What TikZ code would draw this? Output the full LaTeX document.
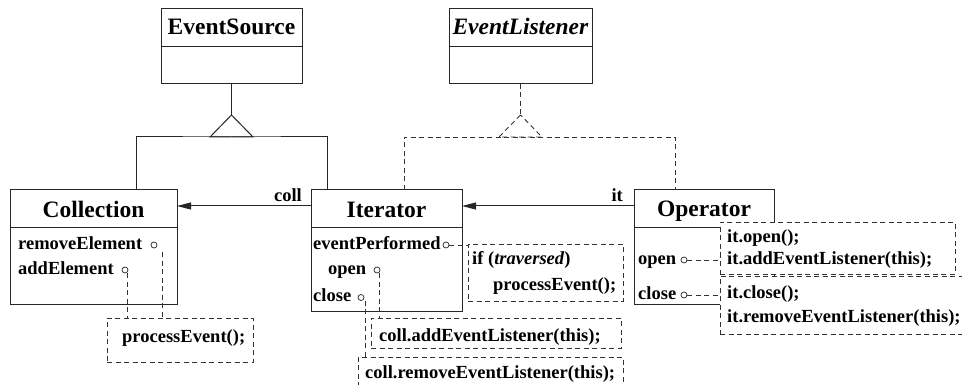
\documentclass[tikz,border=0pt]{standalone}
\usepackage{fontspec}
\setmainfont{Liberation Serif}
\usetikzlibrary{arrows.meta}
\begin{document}
\begin{tikzpicture}[x=1pt,y=-1pt,
  ln/.style={draw=black!85,line width=1pt},
  dsh/.style={draw=black!80,line width=0.9pt,dash pattern=on 5pt off 3.5pt},
  cls/.style={ln,fill=white,inner sep=0pt,outer sep=0pt,anchor=north west},
  note/.style={dsh,fill=white,inner sep=0pt,outer sep=0pt,anchor=north west},
  ttl/.style={font=\fontsize{23.5}{28}\selectfont\bfseries,inner sep=0pt,anchor=base},
  txt/.style={font=\fontsize{18.5}{22}\selectfont\bfseries,inner sep=0pt,anchor=base west},
  port/.style={circle,draw=black!85,line width=0.7pt,inner sep=0pt,minimum size=6pt},
  assoc/.style={ln,-{Triangle[length=14pt,width=7pt]}}]
\useasboundingbox (0,0) rectangle (962,385);
\clip (0,0) rectangle (962,385);

% classes
\node[cls,minimum width=141pt,minimum height=75pt] (es) at (161,9) {};
\node[cls,minimum width=143pt,minimum height=75pt] (el) at (449,9) {};
\node[cls,minimum width=167pt,minimum height=114pt] (coll) at (10,190) {};
\node[cls,minimum width=151pt,minimum height=121pt] (iter) at (311,190) {};
\node[cls,minimum width=140pt,minimum height=114pt] (oper) at (634,190) {};
\foreach \c in {es,el,coll,iter,oper}{
  \draw[ln] ([yshift=-38pt]\c.north west) -- ([yshift=-38pt]\c.north east);
}
\node[ttl] (esT) at (es.north |- 0,35) {EventSource};
\node[ttl] (elT) at (el.north |- 0,35) {\textit{EventListener}};
\node[ttl] (collT) at (coll.north |- 0,218) {Collection};
\node[ttl] (iterT) at (iter.north |- 0,218) {Iterator};
\node[ttl] (operT) at (oper.north |- 0,217) {Operator};

% generalization (solid)
\draw[ln] (es.south) -- ++(0,31) coordinate (esA);
\draw[ln] (esA) -- ++(-21.5,22) -- ++(43,0) -- cycle;
\coordinate (esB) at ([yshift=-22pt]esA);
\coordinate (cTop) at ([xshift=126pt]coll.north west);
\coordinate (iTop) at ([xshift=16pt]iter.north west);
\draw[ln] (cTop) |- (esB) -| (iTop);

% realization (dashed)
\draw[dsh] (el.south) -- ++(0,31) coordinate (elA);
\draw[dsh] (elA) -- ++(-21.5,22) -- ++(43,0) -- cycle;
\coordinate (elB) at ([yshift=-22pt]elA);
\coordinate (iTop2) at ([xshift=93pt]iter.north west);
\coordinate (oTop) at ([xshift=41pt]oper.north west);
\draw[dsh] (iTop2) |- (elB) -| (oTop);

% associations
\coordinate (aY) at (0,206);
\draw[assoc] (iter.west |- aY) -- (coll.east |- aY);
\draw[assoc] (oper.west |- aY) -- (iter.east |- aY);
\node[txt,anchor=base east] (collL) at (302,201) {coll};
\node[txt,anchor=base east] (itL) at (623,201) {it};

% notes
\node[note,minimum width=146pt,minimum height=44pt] (n1) at (107,318) {};
\node[note,minimum width=155pt,minimum height=57pt] (n2) at (468,244) {};
\node[note,minimum width=250pt,minimum height=30pt] (n3) at (371,318) {};
\node[note,minimum width=265pt,minimum height=40pt] (n4) at (358,357) {};
\node[note,minimum width=250pt,minimum height=58pt] (n6) at (720,276) {};
\node[note,minimum width=235pt,minimum height=52pt] (n5) at (720,222) {};

\node[txt] (t1) at (122,342) {processEvent();};
\node[txt] (t2a) at (472,265) {if (\textit{traversed})};
\node[txt] (t2b) at (493,290) {processEvent();};
\node[txt] (t3) at (379,341) {coll.addEventListener(this);};
\node[txt] (t4) at (365,378) {coll.removeEventListener(this);};
\node[txt] (t5a) at (727,242) {it.open();};
\node[txt] (t5b) at (727,264) {it.addEventListener(this);};
\node[txt] (t6a) at (727,298) {it.close();};
\node[txt] (t6b) at (727,322) {it.removeEventListener(this);};

% members
\node[txt] (mRem) at (18,249) {removeElement};
\node[txt] (mAdd) at (18,274) {addElement};
\node[port] (rc) at (154,245) {};
\node[port] (ac) at (125,270) {};
\node[txt] (mEv) at (313,249) {eventPerformed};
\node[txt] (mOpen) at (328,274) {open};
\node[txt] (mClose) at (313,301.5) {close};
\node[port] (ec) at (446,245) {};
\node[port] (oc) at (377,270) {};
\node[port] (cc) at (361,297.5) {};
\node[txt] (pOpen) at (638,264) {open};
\node[txt] (pClose) at (638,299) {close};
\node[port] (oo) at (684,260) {};
\node[port] (co) at (684,295) {};

% note connectors
\coordinate (r1) at ([shift={(8pt,-7pt)}]rc.center);
\draw[dsh] (r1) -- (r1 |- n1.north);
\coordinate (a1) at ([xshift=2pt]ac.south);
\draw[dsh] (a1) -- (a1 |- n1.north);
\draw[dsh] (ec.east) -- (ec.east -| n2.west);
\coordinate (o1) at ([xshift=2pt]oc.south);
\draw[dsh] (o1) -- (o1 |- n3.north);
\coordinate (c1) at ([xshift=4pt]cc.south);
\draw[dsh] (c1) -- (c1 |- n4.north);
\draw[dsh] (oo.east) -- (oo.east -| n5.west);
\draw[dsh] (co.east) -- (co.east -| n6.west);
\end{tikzpicture}
\end{document}
